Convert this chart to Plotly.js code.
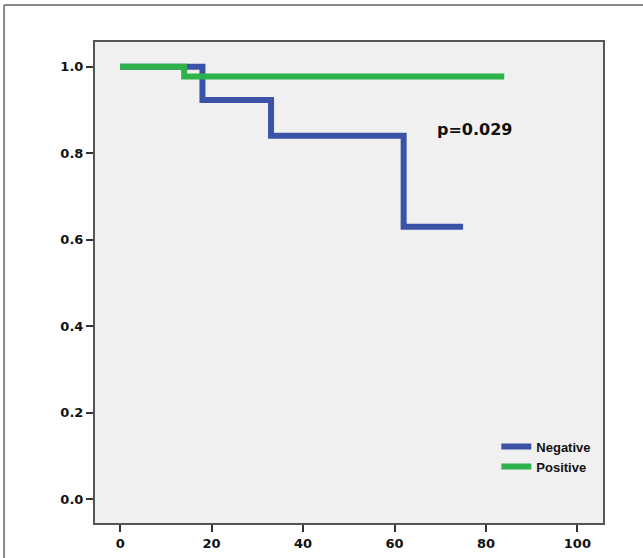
<!DOCTYPE html>
<html>
<head>
<meta charset="utf-8">
<script src="https://cdn.plot.ly/plotly-3.0.1.min.js"></script>
<style>
html,body{margin:0;padding:0;background:#fff;}
#chart{width:643px;height:558px;}
</style>
</head>
<body>
<div id="chart"></div>
<script>
// Kaplan-Meier step data
const negTime = [0, 18, 33, 62, 75];
const negSurv = [1.0, 0.923, 0.840, 0.630, 0.630];
const posTime = [0, 14, 84];
const posSurv = [1.0, 0.977, 0.977];
const xTicks = [0, 20, 40, 60, 80, 100];
const yTicks = [0.0, 0.2, 0.4, 0.6, 0.8, 1.0];
const yTickLabels = ["0.0", "0.2", "0.4", "0.6", "0.8", "1.0"];
const seriesNames = ["Negative", "Positive"];
const pText = "p=0.029";

const traces = [
  {x: negTime, y: negSurv, name: seriesNames[0], mode: "lines",
   line: {shape: "hv", color: "#3a53a6", width: 6}},
  {x: posTime, y: posSurv, name: seriesNames[1], mode: "lines",
   line: {shape: "hv", color: "#2eb24b", width: 6}}
];

const tickFont = {family: "DejaVu Sans", size: 13, color: "#111", weight: "bold"};

const layout = {
  width: 643, height: 558,
  margin: {l: 95, r: 40, t: 42, b: 35},
  paper_bgcolor: "#ffffff",
  plot_bgcolor: "#f0f0f0",
  showlegend: true,
  legend: {x: 0.79, y: 0.19, xanchor: "left", yanchor: "top",
           bgcolor: "rgba(0,0,0,0)", itemwidth: 30, tracegroupgap: 0,
           font: {family: "Liberation Sans", size: 13, color: "#111", weight: "bold"}},
  xaxis: {range: [-5.5, 105.6], tickvals: xTicks, ticktext: xTicks.map(String),
          ticks: "outside", ticklen: 7, tickwidth: 2, tickcolor: "#333",
          showgrid: false, zeroline: false, showline: true, linecolor: "#555",
          linewidth: 2, mirror: true, tickfont: tickFont},
  yaxis: {range: [-0.055, 1.057], tickvals: yTicks, ticktext: yTickLabels,
          ticks: "outside", ticklen: 7, tickwidth: 2, tickcolor: "#333",
          showgrid: false, zeroline: false, showline: true, linecolor: "#555",
          linewidth: 2, mirror: true, tickfont: tickFont},
  annotations: [{x: 77.6, y: 0.855, xref: "x", yref: "y", text: pText,
                 showarrow: false, font: {family: "DejaVu Sans", size: 16, color: "#111", weight: "bold"}}],
  shapes: [
    {type: "line", xref: "paper", yref: "paper", x0: -0.179, x1: 1.1, y0: 1.0769, y1: 1.0769,
     line: {color: "#888", width: 2}},
    {type: "line", xref: "paper", yref: "paper", x0: -0.179, x1: -0.179, y0: -0.08, y1: 1.0769,
     line: {color: "#888", width: 2}}
  ]
};

Plotly.newPlot("chart", traces, layout, {displayModeBar: false, staticPlot: true});
</script>
</body>
</html>
